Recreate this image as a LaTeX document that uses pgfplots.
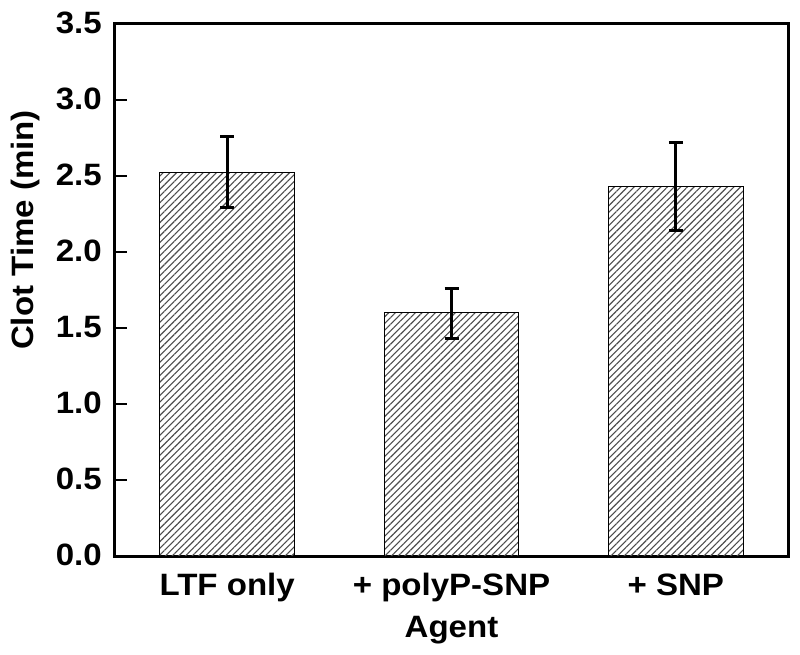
\documentclass[border=0pt]{standalone}
\usepackage{fontspec}
\setmainfont{Liberation Sans}[FakeStretch=1.07]
\usepackage{pgfplots}
\pgfplotsset{compat=1.18}
\usetikzlibrary{patterns.meta}
\begin{document}
\begin{tikzpicture}[x=1bp,y=1bp]
\useasboundingbox (-115bp,-99bp) rectangle (685bp,556bp);
\begin{axis}[
  at={(0,0)}, anchor=south west,
  scale only axis, width=673bp, height=532bp,
  xmin=-0.5, xmax=2.5, ymin=0, ymax=3.5,
  xtick={0,1,2}, xticklabels={LTF only,+ polyP-SNP,+ SNP},
  ytick={0,0.5,...,3.5},
  major x tick style={draw=none},
  ytick pos=left, tick align=inside,
  major tick length=12bp,
  every tick/.style={line width=2.5bp,black},
  axis line style={line width=3bp},
  /pgf/number format/assume math mode=true,
  /pgf/number format/.cd, fixed, fixed zerofill, precision=1, /pgfplots/.cd,
  ticklabel style={font=\fontsize{31}{34}\selectfont\bfseries},
  xticklabel style={anchor=base, yshift=-39bp},
  yticklabel style={anchor=east, inner sep=0pt, xshift=-13bp, yshift=1bp},
  xlabel={Agent}, ylabel={Clot Time (min)},
  label style={font=\fontsize{31}{34}\selectfont\bfseries},
  xlabel style={at={(axis description cs:0.5,0)}, anchor=base, yshift=-81bp},
  ylabel style={at={(axis description cs:-0.1218,0.6128)}, anchor=base, rotate=0},
  clip=false,
]
\addplot[ybar, bar width=0.6, draw=black, line width=0.9bp,
  pattern={Lines[angle=45,distance=4.7bp,line width=1.1bp]}, pattern color=black!70,
  error bars/.cd, y dir=both, y explicit,
  error bar style={line width=3bp,black},
  error mark options={line width=3bp,black,mark size=7bp,rotate=90}]
table[x=x,y=y,y error plus=ep,y error minus=em]{
x y ep em
0 2.525 0.235 0.235
1 1.605 0.155 0.175
2 2.43 0.29 0.29
};
\end{axis}
\end{tikzpicture}
\end{document}
